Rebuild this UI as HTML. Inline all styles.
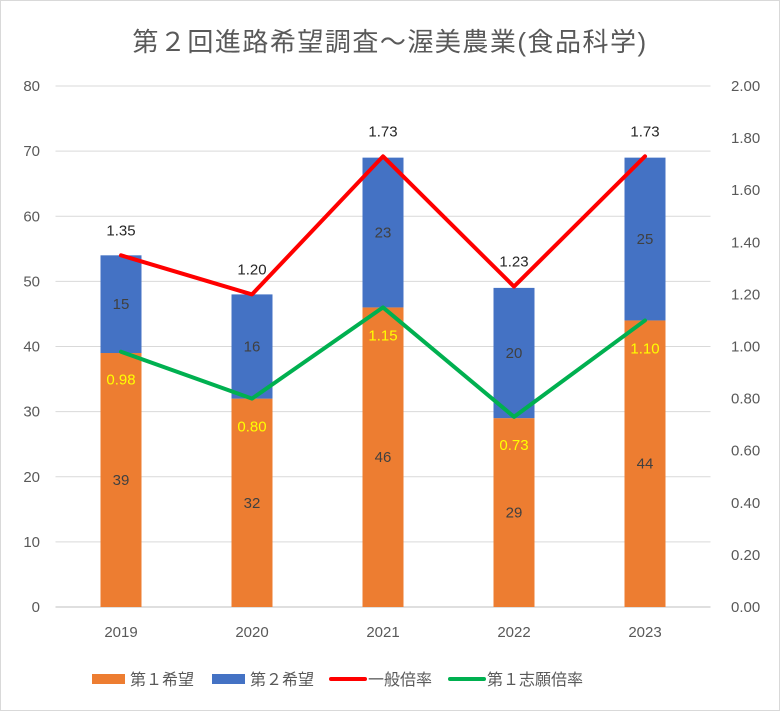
<!DOCTYPE html>
<html><head><meta charset="utf-8"><style>
body{margin:0;background:#fff}
svg text{font-family:"Liberation Sans","Noto Sans CJK JP",sans-serif}
</style></head><body>
<svg width="780" height="711" viewBox="0 0 780 711">
<rect x="0.5" y="0.5" width="779" height="710" fill="#fff" stroke="#d9d9d9"/>
<text x="390" y="51" text-anchor="middle" font-size="26" letter-spacing="1.5" fill="#595959">第２回進路希望調査～渥美農業(食品科学)</text>
<g id="grid"></g><g id="bars"></g><g id="lines"></g><g id="labels"></g><g id="axes"></g>
<g>
<rect x="92" y="674" width="33" height="10" fill="#ED7D31"/>
<text x="130" y="685" font-size="16" fill="#595959">第１希望</text>
<rect x="212" y="674" width="33" height="10" fill="#4472C4"/>
<text x="250" y="685" font-size="16" fill="#595959">第２希望</text>
<line x1="331" y1="679" x2="365" y2="679" stroke="#FF0000" stroke-width="4" stroke-linecap="round"/>
<text x="368" y="685" font-size="16" fill="#595959">一般倍率</text>
<line x1="450" y1="679" x2="484" y2="679" stroke="#00B050" stroke-width="4" stroke-linecap="round"/>
<text x="487" y="685" font-size="16" fill="#595959">第１志願倍率</text>
</g>
</svg>
<script>
const categories=["2019","2020","2021","2022","2023"];
const firstChoice=[39,32,46,29,44];
const secondChoice=[15,16,23,20,25];
const generalRate=[1.35,1.20,1.73,1.23,1.73];
const firstRate=[0.98,0.80,1.15,0.73,1.10];
const leftTicks=[0,10,20,30,40,50,60,70,80];
const rightTicks=["0.00","0.20","0.40","0.60","0.80","1.00","1.20","1.40","1.60","1.80","2.00"];
const NS="http://www.w3.org/2000/svg";
const y0=607,yTop=86,plotL=55.5,plotR=710.5,step=(plotR-plotL)/categories.length,bw=41;
const yL=v=>y0-(v/80)*(y0-yTop);
const yR=v=>y0-(v/2)*(y0-yTop);
const xC=i=>plotL+step*(i+0.5);
function mk(p,t,a){const e=document.createElementNS(NS,t);for(const k in a)e.setAttribute(k,a[k]);document.getElementById(p).appendChild(e);return e;}
leftTicks.forEach(v=>{
 const g=mk('grid','line',{x1:plotL,x2:plotR,y1:yL(v),y2:yL(v),stroke:v===0?'#bfbfbf':'#d9d9d9','stroke-width':1});
 
 
 const t=mk('axes','text',{x:40,y:yL(v)+5,'text-anchor':'end','font-size':15,fill:'#595959'});t.textContent=v;
 
 
});
rightTicks.forEach(s=>{
 const t=mk('axes','text',{x:731,y:yR(+s)+5,'font-size':15,fill:'#595959'});t.textContent=s;
 
 
});
categories.forEach((c,i)=>{
 const t=mk('axes','text',{x:xC(i),y:637,'text-anchor':'middle','font-size':15,fill:'#595959'});t.textContent=c;
 
 
 const a=firstChoice[i],b=secondChoice[i];
 const r1=mk('bars','rect',{x:xC(i)-bw/2,y:yL(a),width:bw,height:y0-yL(a),fill:'#ED7D31'});
 
 
 const r2=mk('bars','rect',{x:xC(i)-bw/2,y:yL(a+b),width:bw,height:yL(a)-yL(a+b),fill:'#4472C4'});
 
 
 const l1=mk('labels','text',{x:xC(i),y:(yL(a)+y0)/2+5,'text-anchor':'middle','font-size':15,fill:'#404040'});l1.textContent=a;
 
 
 const l2=mk('labels','text',{x:xC(i),y:(yL(a)+yL(a+b))/2+5,'text-anchor':'middle','font-size':15,fill:'#404040'});l2.textContent=b;
 
 
 const l3=mk('labels','text',{x:xC(i),y:yR(generalRate[i])-20,'text-anchor':'middle','font-size':15,fill:'#262626'});l3.textContent=generalRate[i].toFixed(2);
 
 
 const l4=mk('labels','text',{x:xC(i),y:yR(firstRate[i])+33,'text-anchor':'middle','font-size':15,fill:'#FFFF00'});l4.textContent=firstRate[i].toFixed(2);
 
 
});
const p1=mk('lines','polyline',{points:generalRate.map((v,i)=>xC(i)+','+yR(v)).join(' '),fill:'none',stroke:'#FF0000','stroke-width':4,'stroke-linejoin':'round','stroke-linecap':'round'});


const p2=mk('lines','polyline',{points:firstRate.map((v,i)=>xC(i)+','+yR(v)).join(' '),fill:'none',stroke:'#00B050','stroke-width':4,'stroke-linejoin':'round','stroke-linecap':'round'});


</script>
</body></html>
